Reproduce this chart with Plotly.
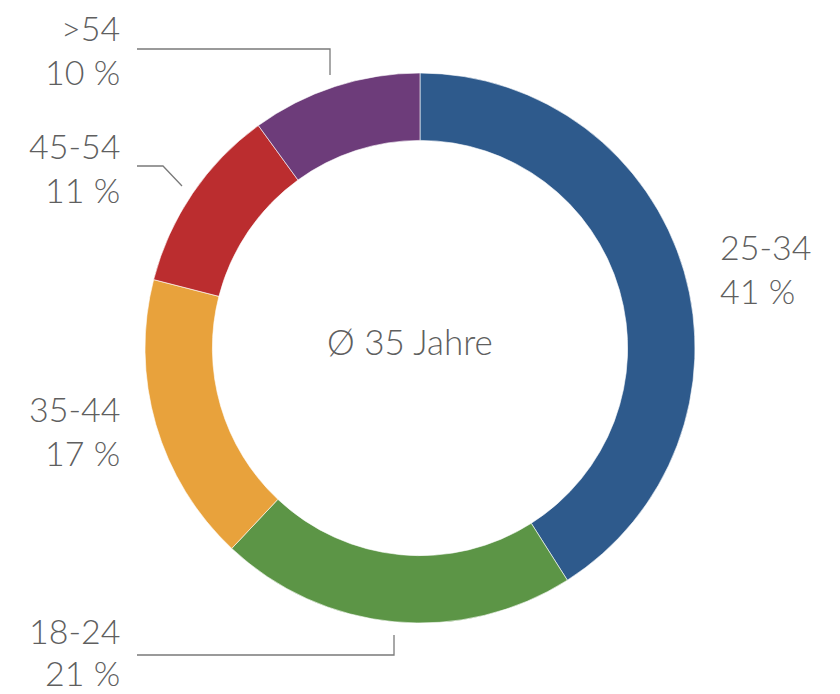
import plotly.graph_objects as go

# Data
labels = ["25-34", "18-24", "35-44", "45-54", ">54"]
values = [41, 21, 17, 11, 10]
colors = ["#2E5A8C", "#5C9546", "#E8A23C", "#BB2D2F", "#6D3C7A"]
center_text = "Ø 35 Jahre"

W, H = 840, 694
FONT = "Lato"
TXT = "#5f5f5f"

def px(x):
    return x / W

def py(y):
    return 1 - y / H

fig = go.Figure(go.Pie(
    labels=labels, values=values, sort=False, direction="clockwise", rotation=0,
    hole=0.755, marker=dict(colors=colors, line=dict(color="white", width=0.6)),
    textinfo="none", hoverinfo="label+percent", showlegend=False,
    domain=dict(x=[px(145), px(695)], y=[py(623), py(73)]),
))

# label positions (pixel): (x, y_line1, y_line2, anchor)
label_pos = {
    ">54": (122, 27, 71, "right"),
    "45-54": (122, 145, 189, "right"),
    "35-44": (122, 408, 452, "right"),
    "18-24": (122, 630, 672, "right"),
    "25-34": (718, 246, 291, "left"),
}
ann = []
for lab, v in zip(labels, values):
    x, y1, y2, anc = label_pos[lab]
    for txt, yy in ((lab, y1), (f"{v} %", y2)):
        ann.append(dict(x=px(x), y=py(yy), xref="paper", yref="paper", text=txt,
                        showarrow=False, xanchor=anc, yanchor="middle",
                        font=dict(family=FONT, size=34, color=TXT, weight=300)))
ann.append(dict(x=px(410), y=py(341), xref="paper", yref="paper", text=center_text,
                showarrow=False, xanchor="center", yanchor="middle",
                font=dict(family=FONT, size=35, color=TXT, weight=300)))

# leader lines (pixel paths)
leaders = [
    [(137, 49), (330, 49), (330, 75)],
    [(137, 166), (163, 166), (182, 186)],
    [(137, 655), (394, 655), (394, 635)],
]
shapes = []
for pts in leaders:
    path = "M " + " L ".join(f"{px(a)},{py(b)}" for a, b in pts)
    shapes.append(dict(type="path", path=path, xref="paper", yref="paper",
                       line=dict(color="#7a7a7a", width=1.3)))

fig.update_layout(
    width=W, height=H, margin=dict(l=0, r=0, t=0, b=0),
    paper_bgcolor="white", plot_bgcolor="white",
    annotations=ann, shapes=shapes,
)
fig.write_html("out.html")
